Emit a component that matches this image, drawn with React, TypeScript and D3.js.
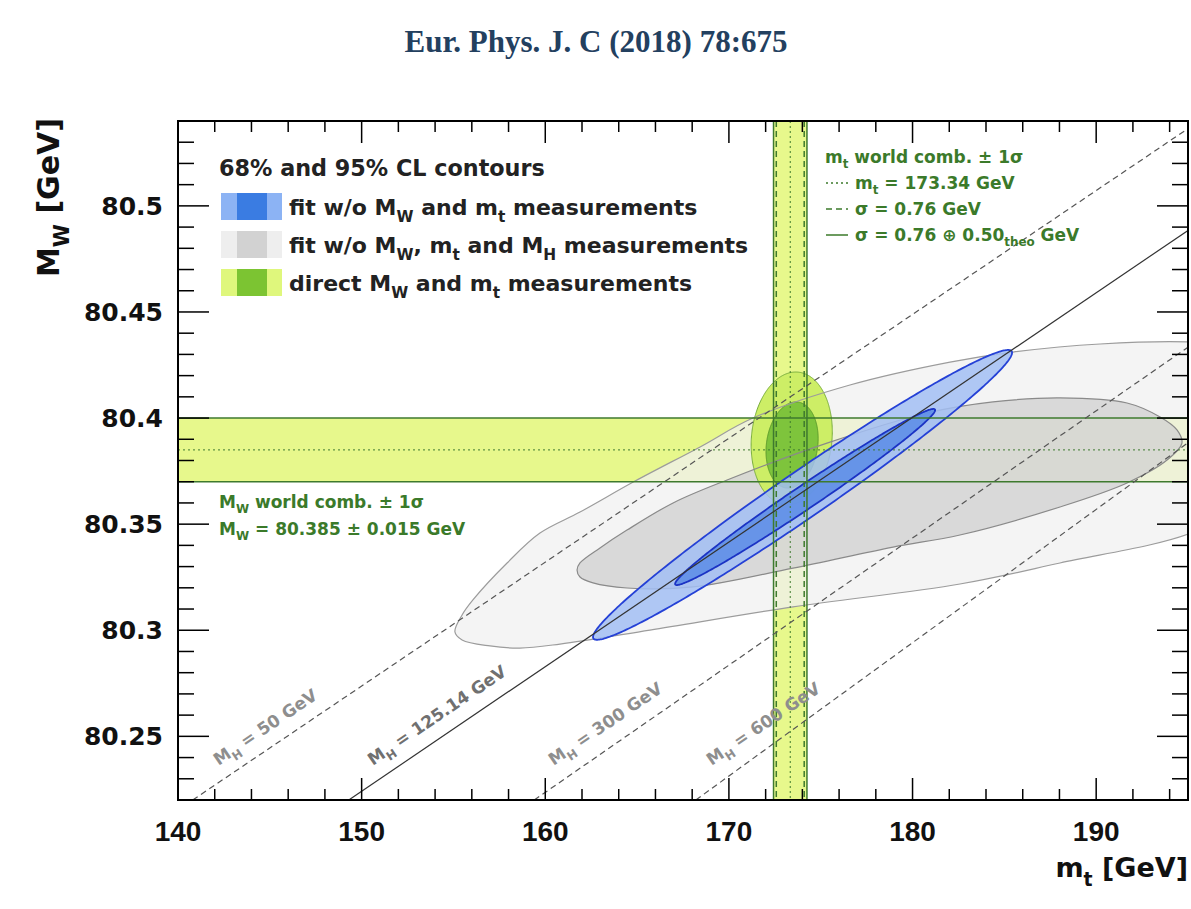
import React from "react";
import * as d3 from "d3";

// ---------- axes ----------
const X_DOMAIN: [number, number] = [140, 195];
const Y_DOMAIN: [number, number] = [80.22, 80.54];
const X_MAJOR = [140, 150, 160, 170, 180, 190];
const X_LABELS = ["140", "150", "160", "170", "180", "190"];
const Y_MAJOR = [80.25, 80.3, 80.35, 80.4, 80.45, 80.5];
const Y_LABELS = ["80.25", "80.3", "80.35", "80.4", "80.45", "80.5"];

// ---------- world combinations ----------
const MW_CENTRAL = 80.385;
const MW_SIGMA = 0.015;
const MT_CENTRAL = 173.34;
const MT_SIGMA_EXP = 0.76;
const MT_SIGMA_TOT = 0.91;

// ---------- SM lines for fixed MH ----------
const HIGGS_LABELS = ["50", "125.14", "300", "600"];
const HIGGS_SOLID = [false, true, false, false];
const HIGGS_START: [number, number][] = [[140.8, 80.22], [149.3, 80.22], [159.4, 80.22], [168.2, 80.22]];
const HIGGS_END: [number, number][] = [[195.1, 80.537], [195.1, 80.489], [195.1, 80.434], [195.1, 80.389]];
const HIGGS_LABEL_POS: [number, number][] = [[142.2, 80.236], [150.6, 80.236], [160.45, 80.236], [169.05, 80.236]];

// ---------- fit w/o MW, mt and MH (contour points, mt / MW) ----------
const GRAY95: [number, number][] = [
  [155.08, 80.2992], [155.47, 80.3072], [156.06, 80.3143], [157.92, 80.3317], [159.71, 80.3458],
  [161.89, 80.3557], [164.89, 80.3703], [168.43, 80.3864], [171.31, 80.4], [176.59, 80.4156],
  [182.04, 80.4264], [185.47, 80.4311], [190.21, 80.4349], [195.16, 80.4358], [197.83, 80.433],
  [199.74, 80.3991], [198.38, 80.3614], [195.16, 80.3458], [188.03, 80.3317], [182.58, 80.3218],
  [173.49, 80.311], [165.7, 80.3001], [160.8, 80.2935], [158.62, 80.2916], [156.99, 80.2926],
  [155.47, 80.2954],
];
const GRAY68: [number, number][] = [
  [161.73, 80.3284], [161.89, 80.3317], [162.98, 80.3388], [164.45, 80.3472], [166.96, 80.36],
  [169.9, 80.3708], [175.34, 80.3882], [180.79, 80.4024], [184.38, 80.4076], [188.03, 80.4095],
  [191.68, 80.4071], [193.48, 80.4005], [194.4, 80.3944], [194.67, 80.3882], [193.86, 80.3802],
  [191.68, 80.3694], [188.03, 80.3581], [182.58, 80.3449], [178.94, 80.3392], [173.49, 80.3293],
  [168.04, 80.3204], [164.45, 80.3199], [162.6, 80.3223], [161.89, 80.3251],
];

// ---------- ellipse contours: [centre mt, centre MW, half-width mt, half-width MW, correlation] ----------
const BLUE95 = [174.01, 80.3638, 11.41, 0.0683, 0.981];
const BLUE68 = [174.15, 80.3628, 7.08, 0.0415, 0.987];
const GREEN95 = [173.42, 80.3904, 2.21, 0.0313, 0.1];
const GREEN68 = [173.44, 80.3873, 1.42, 0.0203, 0.15];

// ---------- layout ----------
const W = 1191;
const H = 909;
const L = 178, R = 1188, T = 121, B = 800;

const x = d3.scaleLinear().domain(X_DOMAIN).range([L, R]);
const y = d3.scaleLinear().domain(Y_DOMAIN).range([B, T]);

const SANS = "'DejaVu Sans', sans-serif";
const ARIAL = "'Liberation Sans', Arial, sans-serif";
const GREEN_TXT = "#3b7a2a";
const BAND_FILL = "#e7f88c";
const BAND_LINE = "#3e7a2e";

const contourPath = d3
  .line<[number, number]>()
  .x((d) => x(d[0]))
  .y((d) => y(d[1]))
  .curve(d3.curveCatmullRomClosed.alpha(0.5));

const linePath = d3
  .line<[number, number]>()
  .x((d) => x(d[0]))
  .y((d) => y(d[1]))
  .curve(d3.curveLinearClosed);

function ellipsePath(p: number[]) {
  const [cx, cy, sx, sy, rho] = p;
  const pts: [number, number][] = d3.range(0, 360, 1).map((deg) => {
    const t = (deg * Math.PI) / 180;
    return [cx + sx * Math.cos(t), cy + sy * (rho * Math.cos(t) + Math.sqrt(1 - rho * rho) * Math.sin(t))];
  });
  return linePath(pts) || "";
}

function parseRich(s: string) {
  const parts: { t: string; sub: boolean }[] = [];
  const re = /_\{([^}]*)\}/g;
  let last = 0;
  let m: RegExpExecArray | null;
  while ((m = re.exec(s))) {
    if (m.index > last) parts.push({ t: s.slice(last, m.index), sub: false });
    parts.push({ t: m[1], sub: true });
    last = m.index + m[0].length;
  }
  if (last < s.length) parts.push({ t: s.slice(last), sub: false });
  return parts;
}

function Rich(props: any) {
  const { text, fs, ...rest } = props;
  const parts = parseRich(text);
  let cur = 0;
  return (
    <text fontSize={fs} style={{ whiteSpace: "pre" }} {...rest}>
      {parts.map((p, i) => {
        const target = p.sub ? fs * 0.32 : 0;
        const dy = target - cur;
        cur = target;
        return (
          <tspan key={i} dy={dy} fontSize={p.sub ? fs * 0.7 : fs}>
            {p.t}
          </tspan>
        );
      })}
    </text>
  );
}

const LEGEND_ROWS = [
  { label: "fit w/o M_{W} and m_{t} measurements", outer: "#8cb3f4", inner: "#3a7ce2" },
  { label: "fit w/o M_{W}, m_{t} and M_{H} measurements", outer: "#eeeeee", inner: "#d2d2d2" },
  { label: "direct M_{W} and m_{t} measurements", outer: "#dff77c", inner: "#7cc432" },
];

const MT_LEGEND = [
  { label: "m_{t} world comb. ± 1σ", dash: null as string | null, sample: false },
  { label: "m_{t} = 173.34 GeV", dash: "2,3", sample: true },
  { label: "σ = 0.76 GeV", dash: "6,4", sample: true },
  { label: "σ = 0.76 ⊕ 0.50_{theo} GeV", dash: "", sample: true },
];

export default function App() {
  const xMinor = d3.range(140, 195.01, 2);
  const yMinor = d3.range(0, 33).map((i) => 80.22 + i * 0.01);
  const angle = (() => {
    const [a, b] = [HIGGS_START[1], HIGGS_END[1]];
    return (Math.atan2(y(b[1]) - y(a[1]), x(b[0]) - x(a[0])) * 180) / Math.PI;
  })();

  return (
    <svg
      width={W}
      height={H}
      style={{ position: "absolute", left: 0, top: 0, display: "block", background: "#fff" }}
    >
      <defs>
        <clipPath id="plot">
          <rect x={L} y={T} width={R - L} height={B - T} />
        </clipPath>
      </defs>

      {/* header */}
      <text
        x={596}
        y={52}
        textAnchor="middle"
        fontFamily="'Liberation Serif', 'Times New Roman', serif"
        fontWeight="bold"
        fontSize={31}
        fill="#23405f"
      >
        Eur. Phys. J. C (2018) 78:675
      </text>

      <g clipPath="url(#plot)">
        {/* bands */}
        <rect x={L} y={y(MW_CENTRAL + MW_SIGMA)} width={R - L} height={y(MW_CENTRAL - MW_SIGMA) - y(MW_CENTRAL + MW_SIGMA)} fill={BAND_FILL} />
        <rect x={x(MT_CENTRAL - MT_SIGMA_TOT)} y={T} width={x(MT_CENTRAL + MT_SIGMA_TOT) - x(MT_CENTRAL - MT_SIGMA_TOT)} height={B - T} fill={BAND_FILL} />

        {/* gray contours */}
        <path d={contourPath(GRAY95) || ""} fill="#f0f0f0" fillOpacity={0.75} />
        <path d={contourPath(GRAY68) || ""} fill="#d2d2d2" fillOpacity={0.8} />

        {/* green direct measurement */}
        <path d={ellipsePath(GREEN95)} fill="#cdee66" stroke="#78ad3c" strokeWidth={1} />
        <path d={ellipsePath(GREEN68)} fill="#7ec43c" stroke="#5c9a2c" strokeWidth={1} />

        {/* gray outlines on top */}
        <path d={contourPath(GRAY95) || ""} fill="none" stroke="#9c9c9c" strokeWidth={1.2} />
        <path d={contourPath(GRAY68) || ""} fill="none" stroke="#8a8a8a" strokeWidth={1.2} />

        {/* blue fit */}
        <path d={ellipsePath(BLUE95)} fill="#a2bef3" fillOpacity={0.85} stroke="#2541d6" strokeWidth={1.8} />
        <path d={ellipsePath(BLUE68)} fill="#5a8ce6" fillOpacity={0.85} stroke="#1b33c4" strokeWidth={1.8} />

        {/* band lines */}
        {[MW_CENTRAL - MW_SIGMA, MW_CENTRAL + MW_SIGMA].map((v, i) => (
          <line key={"hb" + i} x1={L} x2={R} y1={y(v)} y2={y(v)} stroke={BAND_LINE} strokeWidth={1.5} />
        ))}
        <line x1={L} x2={R} y1={y(MW_CENTRAL)} y2={y(MW_CENTRAL)} stroke={BAND_LINE} strokeWidth={1} strokeDasharray="2,3" />
        {[MT_CENTRAL - MT_SIGMA_TOT, MT_CENTRAL + MT_SIGMA_TOT].map((v, i) => (
          <line key={"vs" + i} x1={x(v)} x2={x(v)} y1={T} y2={B} stroke={BAND_LINE} strokeWidth={1.5} />
        ))}
        {[MT_CENTRAL - MT_SIGMA_EXP, MT_CENTRAL + MT_SIGMA_EXP].map((v, i) => (
          <line key={"vd" + i} x1={x(v)} x2={x(v)} y1={T} y2={B} stroke={BAND_LINE} strokeWidth={1.5} strokeDasharray="6,4" />
        ))}
        <line x1={x(MT_CENTRAL)} x2={x(MT_CENTRAL)} y1={T} y2={B} stroke={BAND_LINE} strokeWidth={1} strokeDasharray="2,3" />

        {/* MH lines */}
        {HIGGS_START.map((s, i) => (
          <line
            key={"h" + i}
            x1={x(s[0])}
            y1={y(s[1])}
            x2={x(HIGGS_END[i][0])}
            y2={y(HIGGS_END[i][1])}
            stroke={HIGGS_SOLID[i] ? "#333" : "#555"}
            strokeWidth={1.2}
            strokeDasharray={HIGGS_SOLID[i] ? undefined : "6,4"}
          />
        ))}
      </g>

      {/* MH labels */}
      {HIGGS_LABEL_POS.map((p, i) => (
        <Rich
          key={"hl" + i}
          text={"M_{H} = " + HIGGS_LABELS[i] + " GeV"}
          fs={17}
          fontFamily={SANS}
          fontWeight="bold"
          fill={HIGGS_SOLID[i] ? "#707070" : "#8e8e8e"}
          transform={`translate(${x(p[0])},${y(p[1])}) rotate(${angle})`}
        />
      ))}

      {/* frame and ticks */}
      <rect x={L} y={T} width={R - L} height={B - T} fill="none" stroke="#000" strokeWidth={2} />
      {xMinor.map((v) => {
        const major = X_MAJOR.includes(Math.round(v));
        const len = major ? 22 : 11;
        return (
          <g key={"xt" + v}>
            <line x1={x(v)} x2={x(v)} y1={B} y2={B - len} stroke="#000" strokeWidth={1.5} />
            <line x1={x(v)} x2={x(v)} y1={T} y2={T + len} stroke="#000" strokeWidth={1.5} />
          </g>
        );
      })}
      {yMinor.map((v, i) => {
        const major = Y_MAJOR.some((m) => Math.abs(m - v) < 1e-6);
        const len = major ? 31 : 16;
        return (
          <g key={"yt" + i}>
            <line x1={L} x2={L + len} y1={y(v)} y2={y(v)} stroke="#000" strokeWidth={1.5} />
            <line x1={R} x2={R - len} y1={y(v)} y2={y(v)} stroke="#000" strokeWidth={1.5} />
          </g>
        );
      })}

      {/* tick labels */}
      {X_MAJOR.map((v, i) => (
        <text key={"xl" + i} x={x(v)} y={841} textAnchor="middle" fontFamily={ARIAL} fontWeight="bold" fontSize={28} fill="#111">
          {X_LABELS[i]}
        </text>
      ))}
      {Y_MAJOR.map((v, i) => (
        <text key={"yl" + i} x={163} y={y(v) + 9} textAnchor="end" fontFamily={SANS} fontWeight="bold" fontSize={25} fill="#111">
          {Y_LABELS[i]}
        </text>
      ))}

      {/* axis titles */}
      <Rich text="m_{t} [GeV]" fs={27} x={1188} y={877} textAnchor="end" fontFamily={SANS} fontWeight="bold" fill="#111" />
      <Rich text="M_{W} [GeV]" fs={30} transform="translate(59,118) rotate(-90)" textAnchor="end" fontFamily={SANS} fontWeight="bold" fill="#111" />

      {/* main legend */}
      <text x={219} y={176} fontFamily={SANS} fontWeight="bold" fontSize={22.3} fill="#222">
        68% and 95% CL contours
      </text>
      {LEGEND_ROWS.map((r, i) => {
        const cy = 206.5 + i * 38;
        return (
          <g key={"lg" + i}>
            <rect x={221} y={cy - 13.5} width={61} height={27} fill={r.outer} />
            <rect x={237} y={cy - 13.5} width={30} height={27} fill={r.inner} />
            <Rich text={r.label} fs={22} x={289} y={cy + 8} fontFamily={SANS} fontWeight="bold" fill="#222" />
          </g>
        );
      })}

      {/* mt legend */}
      {MT_LEGEND.map((r, i) => {
        const by = 163 + i * 26;
        return (
          <g key={"mt" + i}>
            {r.sample && (
              <line x1={826} x2={848} y1={by - 6} y2={by - 6} stroke={GREEN_TXT} strokeWidth={1.5} strokeDasharray={r.dash || undefined} />
            )}
            <Rich text={r.label} fs={17} x={r.sample ? 855 : 825} y={by} fontFamily={SANS} fontWeight="bold" fill={GREEN_TXT} />
          </g>
        );
      })}

      {/* MW legend */}
      <Rich text="M_{W} world comb. ± 1σ" fs={17} x={219} y={508} fontFamily={SANS} fontWeight="bold" fill={GREEN_TXT} />
      <Rich text="M_{W} = 80.385 ± 0.015 GeV" fs={17} x={219} y={535} fontFamily={SANS} fontWeight="bold" fill={GREEN_TXT} />
    </svg>
  );
}
